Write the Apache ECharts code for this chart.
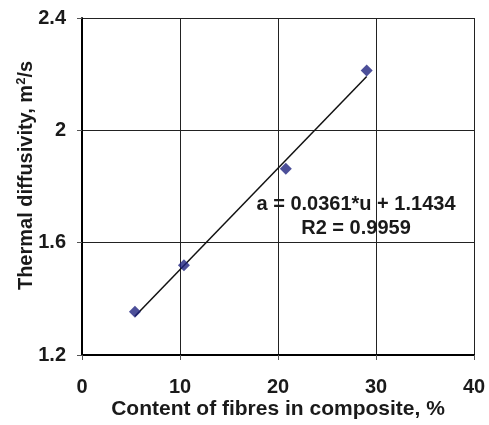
<!DOCTYPE html>
<html>
<head>
<meta charset="utf-8">
<script src="https://cdn.jsdelivr.net/npm/echarts@6/dist/echarts.min.js"></script>
<style>html,body{margin:0;padding:0;background:#fff}#c{width:489px;height:425px}</style>
</head>
<body>
<div id="c"></div>
<script>
const fibreContent = [5.4, 10.4, 20.8, 29.05];
const diffusivity = [1.354, 1.520, 1.863, 2.213];
const trendX = [5.4, 29.05];
const trendY = [1.338, 2.192];
const xTicks = [0, 10, 20, 30, 40];
const yTicks = [1.2, 1.6, 2.0, 2.4];
const equationText = ['a = 0.0361*u + 1.1434', 'R2 = 0.9959'];

const chart = echarts.init(document.getElementById('c'));
const textColor = '#1a1a1a';
const fontFamily = 'Liberation Sans, Arial, sans-serif';
chart.setOption({
  animation: false,
  backgroundColor: '#fff',
  grid: { left: 82, right: 15, top: 18, bottom: 69, containLabel: false },
  xAxis: {
    type: 'value', min: xTicks[0], max: xTicks[xTicks.length - 1], interval: 10,
    name: 'Content of fibres in composite, %',
    nameLocation: 'middle', nameGap: 44, nameMoveOverlap: false,
    nameTextStyle: { fontFamily, fontWeight: 'bold', fontSize: 21, color: textColor },
    axisLine: { show: true, lineStyle: { color: '#000', width: 2 } },
    axisTick: { show: true, length: 5, lineStyle: { color: '#555', width: 1 } },
    axisLabel: { margin: 22, fontFamily, fontWeight: 'bold', fontSize: 20, color: textColor },
    splitLine: { show: true, lineStyle: { color: '#222', width: 1 } }
  },
  yAxis: {
    type: 'value', min: yTicks[0], max: yTicks[yTicks.length - 1], interval: 0.4,
    name: 'Thermal diffusivity, m{sup|2}/s',
    nameLocation: 'middle', nameGap: 44, nameRotate: 90, nameMoveOverlap: false,
    nameTextStyle: {
      fontFamily, fontWeight: 'bold', fontSize: 20, color: textColor,
      padding: [0, 0, 0, 22],
      rich: { sup: { fontFamily, fontWeight: 'bold', fontSize: 13, color: textColor, verticalAlign: 'top', padding: [0, 0, 10, 0] } }
    },
    axisLine: { show: true, lineStyle: { color: '#000', width: 2 } },
    axisTick: { show: true, length: 5, lineStyle: { color: '#555', width: 1 } },
    axisLabel: {
      margin: 16, fontFamily, fontWeight: 'bold', fontSize: 20, color: textColor,
      formatter: v => String(+v.toFixed(1))
    },
    splitLine: { show: true, lineStyle: { color: '#222', width: 1 } }
  },
  series: [
    {
      type: 'line',
      data: trendX.map((x, i) => [x, trendY[i]]),
      symbol: 'none',
      lineStyle: { color: '#111', width: 1.5 },
      z: 2
    },
    {
      type: 'scatter',
      data: fibreContent.map((x, i) => [x, diffusivity[i]]),
      symbol: 'diamond',
      symbolSize: 12,
      itemStyle: { color: '#1F2380' },
      z: 3
    }
  ],
  graphic: equationText.map((t, i) => ({
    type: 'text',
    x: 356, y: 204 + i * 24,
    z: 10,
    style: {
      text: t,
      align: 'center',
      verticalAlign: 'middle',
      fontFamily, fontWeight: 'bold', fontSize: 20,
      fill: textColor
    }
  }))
});
</script>
</body>
</html>
